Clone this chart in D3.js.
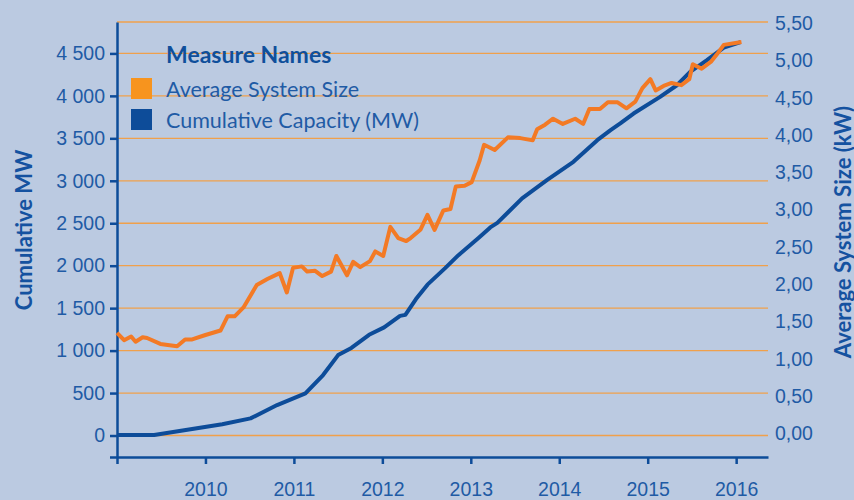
<!DOCTYPE html>
<html>
<head>
<meta charset="utf-8">
<script src="https://cdn.jsdelivr.net/npm/d3@7"></script>
<style>
    body { margin: 0; background: #bbcae1; }
    svg { display: block; font-family: Lato, sans-serif; }
    .axis text { fill: #1f5ba5; font-size: 19.5px; }
    .axis path, .axis line { stroke: #0d4c99; stroke-width: 2.5; }
</style>
</head>
<body>
<div class="chart-container"></div>
<script>
// Data (decimal years)
const sizeYears = [2009.00, 2009.08, 2009.16, 2009.21, 2009.29, 2009.34, 2009.49, 2009.68, 2009.77, 2009.85,
    2010.00, 2010.17, 2010.25, 2010.33, 2010.43, 2010.58, 2010.70, 2010.84, 2010.92, 2010.99,
    2011.09, 2011.15, 2011.24, 2011.32, 2011.42, 2011.48, 2011.60, 2011.67, 2011.75, 2011.86, 2011.92,
    2012.01, 2012.09, 2012.18, 2012.27, 2012.32, 2012.43, 2012.51, 2012.59, 2012.69, 2012.77, 2012.83, 2012.93,
    2013.01, 2013.10, 2013.15, 2013.27, 2013.42, 2013.56, 2013.70, 2013.75, 2013.84, 2013.93,
    2014.04, 2014.18, 2014.27, 2014.34, 2014.46, 2014.55, 2014.66, 2014.76, 2014.86, 2014.94,
    2015.03, 2015.09, 2015.18, 2015.27, 2015.38, 2015.47, 2015.51, 2015.61, 2015.72, 2015.78, 2015.86, 2016.06];
const sizeKW = [1.35, 1.25, 1.30, 1.23, 1.29, 1.28, 1.20, 1.17, 1.26, 1.26,
    1.32, 1.38, 1.57, 1.57, 1.69, 1.99, 2.07, 2.15, 1.89, 2.22,
    2.24, 2.17, 2.18, 2.11, 2.17, 2.38, 2.12, 2.30, 2.23, 2.31, 2.44,
    2.38, 2.77, 2.62, 2.58, 2.62, 2.73, 2.93, 2.73, 2.99, 3.01, 3.31, 3.32,
    3.37, 3.66, 3.87, 3.80, 3.97, 3.96, 3.93, 4.08, 4.14, 4.22,
    4.15, 4.22, 4.15, 4.35, 4.35, 4.44, 4.44, 4.36, 4.45, 4.63,
    4.75, 4.60, 4.66, 4.70, 4.67, 4.75, 4.95, 4.89, 4.99, 5.08, 5.21, 5.25];

const capYears = [2009.00, 2009.42, 2009.76, 2010.19, 2010.51, 2010.81, 2011.13, 2011.33, 2011.50, 2011.65,
    2011.85, 2012.02, 2012.20, 2012.26, 2012.38, 2012.51, 2012.71, 2012.86, 2013.09, 2013.22, 2013.30,
    2013.58, 2013.86, 2014.16, 2014.43, 2014.58, 2014.69, 2014.84, 2015.14, 2015.33, 2015.48, 2015.67,
    2015.86, 2016.05];
const capMW = [5, 5, 61, 133, 202, 359, 497, 712, 947, 1032,
    1186, 1274, 1409, 1421, 1607, 1777, 1971, 2124, 2330, 2451, 2505,
    2792, 3007, 3223, 3478, 3596, 3675, 3792, 3988, 4125, 4282, 4420,
    4569, 4632];

const yearTicks = [2009, 2010, 2011, 2012, 2013, 2014, 2015, 2016];
const mwTicks = [0, 500, 1000, 1500, 2000, 2500, 3000, 3500, 4000, 4500];
const kwTicks = [0, 0.5, 1, 1.5, 2, 2.5, 3, 3.5, 4, 4.5, 5, 5.5];

const legendItems = [
    {name: 'Average System Size', color: '#f7941e'},
    {name: 'Cumulative Capacity (MW)', color: '#0d4c99'}
];

function buildChart() {
    const width = 854;
    const height = 500;
    const margin = {top: 22, right: 86, bottom: 43, left: 117};

    const locale = d3.formatLocale({decimal: ',', thousands: ' ', grouping: [3], currency: ['', '']});

    const svg = d3.select('.chart-container')
        .append('svg')
        .attr('width', width)
        .attr('height', height);

    svg.append('rect')
        .attr('width', width)
        .attr('height', height)
        .attr('fill', '#bbcae1');

    // Scales
    const x = d3.scaleLinear()
        .domain([2009, 2016.36])
        .range([margin.left, width - margin.right]);

    const yMW = d3.scaleLinear()
        .domain([-253, 4870])
        .range([height - margin.bottom, margin.top]);

    const yKW = d3.scaleLinear()
        .domain([-0.316, 5.517])
        .range([height - margin.bottom, margin.top]);

    // Grid lines
    svg.append('g')
        .selectAll('line')
        .data(mwTicks.concat([yMW.domain()[1]]))
        .join('line')
        .attr('x1', margin.left)
        .attr('x2', width - margin.right)
        .attr('y1', d => yMW(d))
        .attr('y2', d => yMW(d))
        .attr('stroke', '#f0a04b')
        .attr('stroke-width', 1.3);

    // Axes
    svg.append('g')
        .attr('class', 'axis')
        .attr('transform', `translate(0,${height - margin.bottom})`)
        .call(d3.axisBottom(x)
            .tickValues(yearTicks)
            .tickFormat(d => d === 2009 ? '' : d)
            .tickSize(7)
            .tickSizeOuter(0)
            .tickPadding(18));

    svg.append('g')
        .attr('class', 'axis')
        .attr('transform', `translate(${margin.left},0)`)
        .call(d3.axisLeft(yMW)
            .tickValues(mwTicks.concat([yMW.domain()[0]]))
            .tickFormat(d => d < 0 ? '' : locale.format(',')(d))
            .tickSize(7)
            .tickSizeOuter(0)
            .tickPadding(5));

    const right = svg.append('g')
        .attr('class', 'axis')
        .attr('transform', `translate(${width - margin.right},0)`)
        .call(d3.axisRight(yKW)
            .tickValues(kwTicks)
            .tickFormat(locale.format('.2f'))
            .tickSize(0)
            .tickPadding(7));
    right.select('.domain').remove();

    // Lines
    const capData = capYears.map((d, i) => [d, capMW[i]]);
    const sizeData = sizeYears.map((d, i) => [d, sizeKW[i]]);

    svg.append('path')
        .datum(capData)
        .attr('fill', 'none')
        .attr('stroke', '#0d4c99')
        .attr('stroke-width', 4)
        .attr('stroke-linejoin', 'round')
        .attr('d', d3.line().x(d => x(d[0])).y(d => yMW(d[1])));

    svg.append('path')
        .datum(sizeData)
        .attr('fill', 'none')
        .attr('stroke', '#f37a25')
        .attr('stroke-width', 4)
        .attr('stroke-linejoin', 'round')
        .attr('d', d3.line().x(d => x(d[0])).y(d => yKW(d[1])));

    // Axis titles
    svg.append('text')
        .attr('transform', `translate(23,230) rotate(-90)`)
        .attr('text-anchor', 'middle')
        .attr('dominant-baseline', 'central')
        .attr('fill', '#1552a0')
        .attr('font-weight', 'bold')
        .attr('font-size', '22px')
        .text('Cumulative MW');

    svg.append('text')
        .attr('transform', `translate(842,232) rotate(-90)`)
        .attr('text-anchor', 'middle')
        .attr('dominant-baseline', 'central')
        .attr('fill', '#1552a0')
        .attr('font-weight', 'bold')
        .attr('font-size', '22px')
        .text('Average System Size (kW)');

    // Legend
    const legend = svg.append('g').attr('transform', 'translate(131,0)');

    legend.append('text')
        .attr('x', 35)
        .attr('y', 63)
        .attr('fill', '#0f4f9b')
        .attr('font-weight', 'bold')
        .attr('font-size', '23px')
        .text('Measure Names');

    const item = legend.selectAll('g.item')
        .data(legendItems)
        .join('g')
        .attr('class', 'item')
        .attr('transform', (d, i) => `translate(0,${78 + i * 31})`);

    item.append('rect')
        .attr('width', 21)
        .attr('height', 21)
        .attr('fill', d => d.color);

    item.append('text')
        .attr('x', 35)
        .attr('y', 19)
        .attr('fill', '#1f5ba5')
        .attr('font-size', '21.5px')
        .text(d => d.name);
}

buildChart();
</script>
</body>
</html>
